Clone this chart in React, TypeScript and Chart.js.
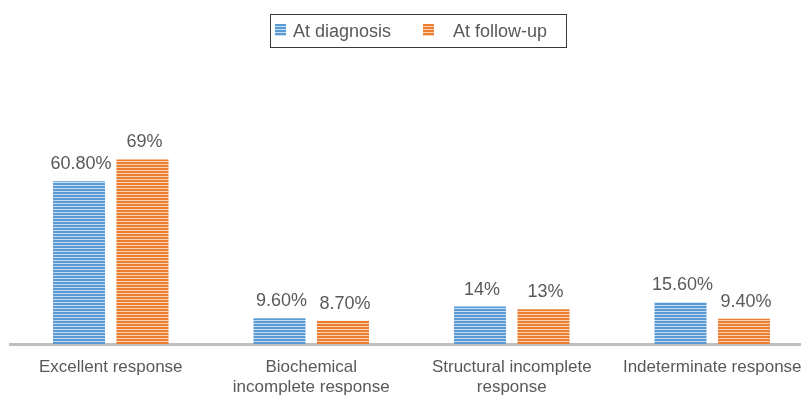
import React, { useEffect, useRef } from "react";
import { Chart, registerables } from "chart.js";

Chart.register(...registerables);

const categories: (string | string[])[] = [
  "Excellent response",
  ["Biochemical", "incomplete response"],
  ["Structural incomplete", "response"],
  "Indeterminate response",
];
const seriesNames = ["At diagnosis", "At follow-up"];
const diagnosisValues = [60.8, 9.6, 14, 15.6];
const followupValues = [69, 8.7, 13, 9.4];
const diagnosisLabels = ["60.80%", "9.60%", "14%", "15.60%"];
const followupLabels = ["69%", "8.70%", "13%", "9.40%"];

const BLUE = "#5B9BD5";
const BLUE_LIGHT = "#C9DDF2";
const ORANGE = "#ED7D31";
const ORANGE_LIGHT = "#F9D3B8";
const TEXT = "#595959";
const FONT = "'Liberation Sans', Arial, Helvetica, sans-serif";

function makeStripe(color: string, light: string): CanvasPattern | string {
  const c = document.createElement("canvas");
  c.width = 4;
  c.height = 3;
  const ctx = c.getContext("2d");
  if (!ctx) return color;
  ctx.fillStyle = light;
  ctx.fillRect(0, 0, 4, 3);
  ctx.fillStyle = color;
  ctx.fillRect(0, 0, 4, 2);
  const p = ctx.createPattern(c, "repeat");
  return p || color;
}

export default function App() {
  const ref = useRef<HTMLCanvasElement>(null);

  useEffect(() => {
    if (!ref.current) return;
    const bluePat = makeStripe(BLUE, BLUE_LIGHT);
    const orangePat = makeStripe(ORANGE, ORANGE_LIGHT);
    const valueLabels = [diagnosisLabels, followupLabels];

    const labelPlugin = {
      id: "valueLabels",
      afterDatasetsDraw(chart: any) {
        const ctx = chart.ctx;
        ctx.save();
        ctx.font = `18px ${FONT}`;
        ctx.fillStyle = TEXT;
        ctx.textAlign = "center";
        ctx.textBaseline = "alphabetic";
        chart.data.datasets.forEach((_ds: any, di: number) => {
          const meta = chart.getDatasetMeta(di);
          meta.data.forEach((el: any, i: number) => {
            ctx.fillText(valueLabels[di][i], el.x + 2, el.y - 12);
          });
        });
        ctx.restore();
      },
    };

    const legendPlugin = {
      id: "boxedLegend",
      afterDraw(chart: any) {
        const ctx = chart.ctx;
        ctx.save();
        ctx.strokeStyle = "#3a3a3a";
        ctx.lineWidth = 1;
        ctx.strokeRect(270.5, 14.5, 296, 33);
        const items = [
          { fill: bluePat, boxX: 275, textX: 293, text: seriesNames[0] },
          { fill: orangePat, boxX: 423, textX: 453, text: seriesNames[1] },
        ];
        ctx.font = `18px ${FONT}`;
        ctx.textBaseline = "alphabetic";
        ctx.textAlign = "left";
        items.forEach((it) => {
          ctx.fillStyle = it.fill as any;
          ctx.fillRect(it.boxX, 24, 11, 12);
          ctx.fillStyle = TEXT;
          ctx.fillText(it.text, it.textX, 37);
        });
        ctx.restore();
      },
    };

    const chart = new Chart(ref.current, {
      type: "bar",
      data: {
        labels: categories,
        datasets: [
          {
            label: seriesNames[0],
            data: diagnosisValues,
            backgroundColor: bluePat as any,
            borderWidth: 0,
            categoryPercentage: 0.633,
            barPercentage: 0.82,
          },
          {
            label: seriesNames[1],
            data: followupValues,
            backgroundColor: orangePat as any,
            borderWidth: 0,
            categoryPercentage: 0.633,
            barPercentage: 0.82,
          },
        ],
      },
      options: {
        responsive: false,
        animation: false,
        layout: { padding: { left: 10.5, right: 17.5, top: 130, bottom: 0 } },
        plugins: {
          legend: { display: false },
          tooltip: { enabled: false },
        },
        scales: {
          x: {
            z: 1,
            grid: { display: false, drawTicks: false },
            border: { display: true, color: "#BFBFBF", width: 3 },
            ticks: {
              color: TEXT,
              font: { size: 17, family: FONT, lineHeight: 1.15 },
              padding: 14,
              maxRotation: 0,
              autoSkip: false,
            },
            afterFit: (scale: any) => {
              scale.height = 53;
            },
          },
          y: {
            display: false,
            min: 0,
            max: 80,
          },
        },
      },
      plugins: [labelPlugin, legendPlugin],
    });
    return () => chart.destroy();
  }, []);

  return (
    <div
      style={{
        position: "fixed",
        left: 0,
        top: 0,
        width: 801,
        height: 397,
        overflow: "hidden",
        background: "#fff",
      }}
    >
      <canvas ref={ref} width={830} height={397} style={{ display: "block" }} />
    </div>
  );
}
